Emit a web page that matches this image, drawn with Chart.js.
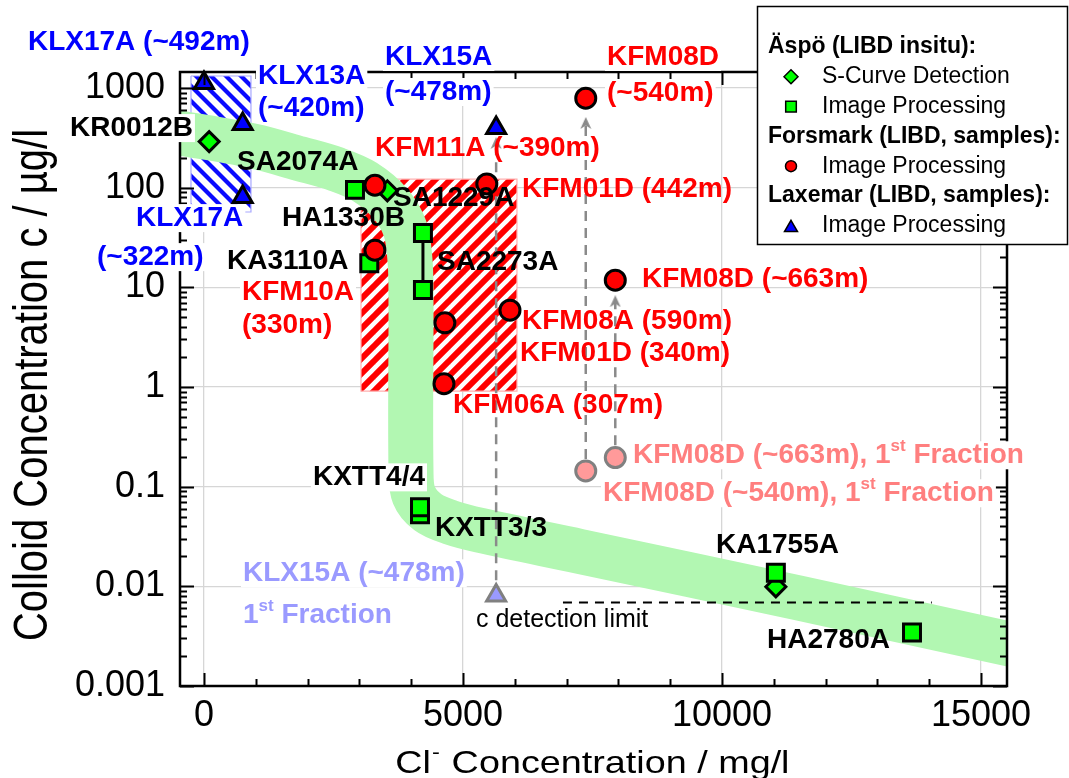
<!DOCTYPE html>
<html>
<head>
<meta charset="utf-8">
<script src="https://cdn.jsdelivr.net/npm/chart.js@4.4.1/dist/chart.umd.min.js"></script>
<style>
  html, body { margin: 0; padding: 0; background: #fff; }
  #wrap { width: 1069px; height: 778px; }
</style>
</head>
<body>
<div id="wrap"><canvas id="chart" width="1069" height="778"></canvas></div>
<script>
const FAMILY = "'Liberation Sans', Arial, Helvetica, sans-serif";

// ---- Axis ticks ----
const xTickValues = [0, 5000, 10000, 15000];
const yTickValues = [0.001, 0.01, 0.1, 1, 10, 100, 1000];

// ---- Äspö, LIBD in situ (Cl- in mg/l, colloids in µg/l) ----
const aspoSCurveNames = ['KR0012B', 'SA1229A', 'KA1755A'];
const aspoSCurveCl    = [100, 3540, 11040];
const aspoSCurveC     = [290, 93, 0.0099];

const aspoImageNames = ['SA2074A', 'KA3110A', 'SA2273A', 'SA2273A', 'KXTT3/3', 'KXTT4/4', 'KA1755A', 'HA2780A'];
const aspoImageCl    = [2915, 3191, 4227, 4227, 4170, 4170, 11040, 13668];
const aspoImageC     = [95, 17.4, 35, 9.4, 0.053, 0.062, 0.0137, 0.00345];

// SA2273A spread (min / max)
const sa2273Cl = 4227;
const sa2273C  = [9.4, 35];

// ---- Forsmark, LIBD samples ----
const forsmarkNames = ['KFM11A (~390m)', 'KFM01D (442m)', 'KFM10A (330m)', 'KFM08D (~540m)',
                       'KFM08D (~663m)', 'KFM08A (590m)', 'KFM01D (340m)', 'KFM06A (307m)'];
const forsmarkCl = [3300, 5460, 3300, 7370, 7940, 5907, 4650, 4633];
const forsmarkC  = [106, 109, 23.6, 790, 11.8, 5.9, 4.4, 1.08];

const forsmarkFirstNames = ['KFM08D (~540m), 1st Fraction', 'KFM08D (~663m), 1st Fraction'];
const forsmarkFirstCl = [7370, 7940];
const forsmarkFirstC  = [0.144, 0.196];

// ---- Laxemar, LIBD samples ----
const laxemarNames = ['KLX17A (~492m)', 'KLX13A (~420m)', 'KLX17A (~322m)', 'KLX15A (~478m)'];
const laxemarCl = [0, 747, 747, 5640];
const laxemarC  = [1120, 435, 80.5, 396];

const laxemarFirstNames = ['KLX15A (~478m), 1st Fraction'];
const laxemarFirstCl = [5640];
const laxemarFirstC  = [0.0081];

// ---- Ranges of the sample sets ----
const laxemarRangeCl  = [-251, 907];
const laxemarRangeC   = [57, 1320];
const forsmarkRangeCl = [3031, 6042];
const forsmarkRangeC  = [0.908, 122];

// ---- 1st fraction -> full sample arrows ----
const arrowCl     = [7370, 7940, 5640];
const arrowFromC  = [0.19, 0.26, 0.0115];
const arrowToC    = [446, 7.26, 281];

// ---- Detection limit ----
const detectionLimitCl = [6930, 14050];
const detectionLimitC  = 0.0069;

// ---- Trend band (S-curve) ----
const bandCl = [-560, 946, 1853, 2568, 3108, 3591, 3880, 3977, 3996, 3996, 4054, 4324, 4749, 5328, 7259, 11506, 15656];
const bandC  = [361, 262, 195, 152, 114, 70, 39, 18.7, 7.4, 0.146, 0.082, 0.0553, 0.044, 0.0365, 0.0224, 0.0076, 0.00256];

// ---- Colours ----
const BLUE = '#0000ff', RED = '#ff0000', BLACK = '#000000';
const PALE_RED = '#ff7f7f', PALE_BLUE = '#9a9aff';
const GREEN = '#00ff00';

// ---- Text annotations (anchored in data units: left edge, vertical centre) ----
const annotations = [
  { text: 'KLX17A (~492m)', cl: -3398, c: 2897, color: BLUE, bg: true },
  { text: 'KLX13A', cl: 1042, c: 1319, color: BLUE, bg: true },
  { text: '(~420m)', cl: 1042, c: 629, color: BLUE, bg: true },
  { text: 'KR0012B', cl: -2587, c: 396, color: BLACK, bg: true },
  { text: 'SA2074A', cl: 637, c: 181, color: BLACK, bg: false },
  { text: 'KLX17A', cl: -1313, c: 49.5, color: BLUE, bg: true },
  { text: '(~322m)', cl: -2066, c: 20.1, color: BLUE, bg: true },
  { text: 'HA1330B', cl: 1506, c: 49.5, color: BLACK, bg: false },
  { text: 'KA3110A', cl: 444, c: 18.3, color: BLACK, bg: false },
  { text: 'KFM10A', cl: 734, c: 8.95, color: RED, bg: true },
  { text: '(330m)', cl: 734, c: 4.17, color: RED, bg: true },
  { text: 'KLX15A', cl: 3494, c: 2047, color: BLUE, bg: true },
  { text: '(~478m)', cl: 3494, c: 912, color: BLUE, bg: true },
  { text: 'KFM08D', cl: 7780, c: 2047, color: RED, bg: true },
  { text: '(~540m)', cl: 7780, c: 891, color: RED, bg: true },
  { text: 'KFM11A (~390m)', cl: 3301, c: 250, color: RED, bg: false },
  { text: 'KFM01D (442m)', cl: 6139, c: 96.8, color: RED, bg: false },
  { text: 'SA1229A', cl: 3649, c: 78.7, color: BLACK, bg: false },
  { text: 'SA2273A', cl: 4498, c: 17.9, color: BLACK, bg: false },
  { text: 'KFM08D (~663m)', cl: 8456, c: 12.1, color: RED, bg: false },
  { text: 'KFM08A (590m)', cl: 6139, c: 4.58, color: RED, bg: false },
  { text: 'KFM01D (340m)', cl: 6100, c: 2.18, color: RED, bg: false },
  { text: 'KFM06A (307m)', cl: 4807, c: 0.656, color: RED, bg: false },
  { text: 'KFM08D (~663m), 1^st^ Fraction', cl: 8282, c: 0.2065, color: PALE_RED, bg: true },
  { text: 'KFM08D (~540m), 1^st^ Fraction', cl: 7703, c: 0.0859, color: PALE_RED, bg: true },
  { text: 'KXTT4/4', cl: 2104, c: 0.124, color: BLACK, bg: true },
  { text: 'KXTT3/3', cl: 4459, c: 0.0382, color: BLACK, bg: false },
  { text: 'KLX15A (~478m)', cl: 753, c: 0.0135, color: PALE_BLUE, bg: true },
  { text: '1^st^ Fraction', cl: 753, c: 0.00512, color: PALE_BLUE, bg: true },
  { text: 'c detection limit', cl: 5251, c: 0.00456, color: BLACK, bg: false, weight: 'normal', size: 25 },
  { text: 'KA1755A', cl: 9884, c: 0.0258, color: BLACK, bg: false },
  { text: 'HA2780A', cl: 10869, c: 0.00287, color: BLACK, bg: false }
];

// ---- Legend entries ----
const legendRows = [
  { title: 'Äspö (LIBD insitu):' },
  { marker: 'rectRot', radius: 7, fill: GREEN, text: 'S-Curve Detection' },
  { marker: 'rect', radius: 7.5, fill: GREEN, text: 'Image Processing' },
  { title: 'Forsmark (LIBD, samples):' },
  { marker: 'circle', radius: 5.5, fill: RED, text: 'Image Processing' },
  { title: 'Laxemar (LIBD, samples):' },
  { marker: 'triangle', radius: 7.5, fill: BLUE, text: 'Image Processing' }
];

const zip = (xs, ys) => xs.map((x, i) => ({ x, y: ys[i] }));
const box = (cl, c) => [
  { x: cl[0], y: c[1] }, { x: cl[1], y: c[1] }, { x: cl[1], y: c[0] },
  { x: cl[0], y: c[0] }, { x: cl[0], y: c[1] }
];

// diagonal hatch fill
function hatch(color, period, width, rising) {
  const cv = document.createElement('canvas');
  cv.width = cv.height = period;
  const g = cv.getContext('2d');
  g.fillStyle = '#ffffff';
  g.fillRect(0, 0, period, period);
  g.strokeStyle = color;
  g.lineWidth = width;
  g.lineCap = 'square';
  for (const o of [-period, 0, period]) {
    g.beginPath();
    if (rising) { g.moveTo(o, period); g.lineTo(o + period, 0); }
    else { g.moveTo(o, 0); g.lineTo(o + period, period); }
    g.stroke();
  }
  return g.createPattern(cv, 'repeat');
}

// grey arrow head
function arrowHead() {
  const cv = document.createElement('canvas');
  cv.width = 12; cv.height = 12;
  const g = cv.getContext('2d');
  g.fillStyle = '#8a8a8a';
  g.beginPath();
  g.moveTo(6, 0); g.lineTo(11.5, 12); g.lineTo(6, 8.5); g.lineTo(0.5, 12);
  g.closePath();
  g.fill();
  return cv;
}
const ARROW = arrowHead();

function parts(text) {
  return text.split('^').map((t, i) => ({ t, sup: i % 2 === 1 }));
}

function richWidth(ctx, segs, size, weight) {
  let w = 0;
  for (const p of segs) {
    ctx.font = `${weight} ${p.sup ? Math.round(size * 0.6) : size}px ${FAMILY}`;
    w += ctx.measureText(p.t).width;
  }
  return w;
}

function drawRich(ctx, segs, x, y, size, weight) {
  let cx = x;
  for (const p of segs) {
    const s = p.sup ? Math.round(size * 0.6) : size;
    ctx.font = `${weight} ${s}px ${FAMILY}`;
    ctx.fillText(p.t, cx, p.sup ? y - size * 0.32 : y);
    cx += ctx.measureText(p.t).width;
  }
}

// frame with inward ticks on all four sides
const framePlugin = {
  id: 'frame',
  afterDatasetsDraw(chart) {
    const { ctx, chartArea: a, scales: { x, y } } = chart;
    ctx.save();
    ctx.strokeStyle = '#000';
    ctx.lineCap = 'butt';
    ctx.lineWidth = 2;
    ctx.beginPath();
    for (let v = 0; v <= x.max; v += 1000) {
      const px = Math.round(x.getPixelForValue(v)) + 0.5;
      const len = v % 5000 === 0 ? 13 : 7;
      ctx.moveTo(px, a.bottom); ctx.lineTo(px, a.bottom - len);
      ctx.moveTo(px, a.top); ctx.lineTo(px, a.top + len);
    }
    for (let d = -3; d <= 3; d++) {
      for (let m = 1; m <= 9; m++) {
        const v = m * Math.pow(10, d);
        if (v > y.max) continue;
        const py = Math.round(y.getPixelForValue(v)) + 0.5;
        const len = m === 1 ? 14 : 7;
        ctx.moveTo(a.left, py); ctx.lineTo(a.left + len, py);
        ctx.moveTo(a.right, py); ctx.lineTo(a.right - len, py);
      }
    }
    ctx.stroke();
    ctx.lineWidth = 2.5;
    ctx.strokeRect(a.left, a.top, a.right - a.left, a.bottom - a.top);
    ctx.restore();
  }
};

// axis titles, text annotations and the grouped legend
const overlayPlugin = {
  id: 'overlay',
  afterDraw(chart) {
    const { ctx, scales: { x, y } } = chart;
    ctx.save();
    ctx.textBaseline = 'middle';
    ctx.textAlign = 'left';
    for (const a of annotations) {
      const segs = parts(a.text);
      const size = a.size || 28;
      const weight = a.weight || 'bold';
      const px = x.getPixelForValue(a.cl);
      const py = y.getPixelForValue(a.c);
      if (a.bg) {
        const w = richWidth(ctx, segs, size, weight);
        ctx.fillStyle = '#ffffff';
        ctx.fillRect(px - 2, py - size * 0.5, w + 4, size * 1.0);
      }
      ctx.fillStyle = a.color;
      drawRich(ctx, segs, px, py, size, weight);
    }

    // y title
    ctx.save();
    ctx.translate(47, 385);
    ctx.rotate(-Math.PI / 2);
    ctx.scale(1, 1.2);
    ctx.font = `40px ${FAMILY}`;
    ctx.fillStyle = '#000';
    ctx.textAlign = 'center';
    ctx.textBaseline = 'alphabetic';
    ctx.fillText('Colloid Concentration c / µg/l', 0, 0);
    ctx.restore();

    // x title
    ctx.save();
    const xt = [{ t: 'Cl' }, { t: '-', sup: true }, { t: ' Concentration / mg/l' }];
    ctx.textBaseline = 'alphabetic';
    ctx.fillStyle = '#000';
    const w = richWidth(ctx, xt, 32, 'normal');
    ctx.translate(591, 773);
    ctx.scale(1.18, 1);
    let cx = -w / 2;
    for (const p of xt) {
      ctx.font = `${p.sup ? 20 : 32}px ${FAMILY}`;
      ctx.fillText(p.t, cx + (p.sup ? 1 : 0), p.sup ? -14 : 0);
      cx += ctx.measureText(p.t).width + (p.sup ? 2 : 0);
    }
    ctx.restore();

    // legend
    const L = { left: 757, top: 6, right: 1067, bottom: 244 };
    ctx.fillStyle = '#ffffff';
    ctx.fillRect(L.left, L.top, L.right - L.left, L.bottom - L.top);
    ctx.strokeStyle = '#000';
    ctx.lineWidth = 1.5;
    ctx.strokeRect(L.left + 0.5, L.top + 0.5, L.right - L.left, L.bottom - L.top);
    ctx.textBaseline = 'middle';
    legendRows.forEach((r, i) => {
      const ry = 47 + i * 29.8;
      ctx.fillStyle = '#000';
      if (r.title) {
        ctx.font = `bold 23px ${FAMILY}`;
        ctx.fillText(r.title, 768, ry);
      } else {
        ctx.fillStyle = r.fill;
        ctx.strokeStyle = '#000';
        ctx.lineWidth = 1.5;
        Chart.helpers.drawPoint(ctx, { pointStyle: r.marker, radius: r.radius, borderWidth: 1.5, rotation: 0 }, 791, ry + (r.marker === 'triangle' ? 2 : 0));
        ctx.fillStyle = '#000';
        ctx.font = `23px ${FAMILY}`;
        ctx.fillText(r.text, 822, ry);
      }
    });
    ctx.restore();
  }
};

const markerBase = { showLine: false, clip: false, pointBorderColor: '#000', pointBorderWidth: 3, pointHoverRadius: 0 };

const datasets = [
  { label: 'Laxemar range', data: box(laxemarRangeCl, laxemarRangeC), showLine: true, fill: 'shape',
    backgroundColor: hatch('#0a0aff', 15, 4.2, false), borderColor: '#a8a8ff', borderWidth: 1.2,
    pointRadius: 0, clip: 0, order: 20 },
  { label: 'Forsmark range', data: box(forsmarkRangeCl, forsmarkRangeC), showLine: true, fill: 'shape',
    backgroundColor: hatch('#ff0000', 15, 6, true), borderColor: '#ffb0b0', borderWidth: 1.2,
    pointRadius: 0, clip: 0, order: 19 },
  { label: 'Trend', data: zip(bandCl, bandC), showLine: true, fill: false, borderColor: '#b2f7b2',
    borderWidth: 45, tension: 0.35, borderCapStyle: 'butt', borderJoinStyle: 'round',
    pointRadius: 0, clip: 0, order: 18 },
  ...arrowCl.map((cl, i) => ({
    label: 'arrow ' + i, data: [{ x: cl, y: arrowFromC[i] }, { x: cl, y: arrowToC[i] }],
    showLine: true, fill: false, borderColor: '#8a8a8a', borderWidth: 2.5, borderDash: [10, 7],
    pointRadius: ctx => (ctx.dataIndex === 1 ? 6 : 0), pointStyle: ARROW, clip: false, order: 15
  })),
  { label: 'Detection limit', data: detectionLimitCl.map(cl => ({ x: cl, y: detectionLimitC })),
    showLine: true, fill: false, borderColor: '#000', borderWidth: 2, borderDash: [9, 7],
    pointRadius: 0, order: 14 },
  { label: 'SA2273A range', data: sa2273C.map(c => ({ x: sa2273Cl, y: c })), showLine: true, fill: false,
    borderColor: '#000', borderWidth: 3, pointRadius: 0, order: 13 },
  { ...markerBase, label: 'Forsmark 1st fraction', data: zip(forsmarkFirstCl, forsmarkFirstC),
    pointStyle: 'circle', pointRadius: 10, pointBackgroundColor: '#ff9a9a', pointBorderColor: '#808080', order: 10 },
  { ...markerBase, label: 'Laxemar 1st fraction', data: zip(laxemarFirstCl, laxemarFirstC),
    pointStyle: 'triangle', pointRadius: 11, pointBackgroundColor: '#9a9aff', pointBorderColor: '#808080', order: 10 },
  { ...markerBase, label: 'Äspö S-Curve Detection', data: zip(aspoSCurveCl, aspoSCurveC),
    pointStyle: 'rectRot', pointRadius: 10, pointBackgroundColor: GREEN, order: 8 },
  { ...markerBase, label: 'Äspö Image Processing', data: zip(aspoImageCl, aspoImageC),
    pointStyle: 'rect', pointRadius: 12, pointBackgroundColor: GREEN, order: 7 },
  { ...markerBase, label: 'Forsmark Image Processing', data: zip(forsmarkCl, forsmarkC),
    pointStyle: 'circle', pointRadius: 10, pointBackgroundColor: RED, order: 6 },
  { ...markerBase, label: 'Laxemar Image Processing', data: zip(laxemarCl, laxemarC),
    pointStyle: 'triangle', pointRadius: 11, pointBackgroundColor: BLUE, order: 5 }
];

new Chart(document.getElementById('chart'), {
  type: 'scatter',
  data: { datasets },
  options: {
    responsive: false,
    animation: false,
    devicePixelRatio: 1,
    events: [],
    layout: { padding: { top: 72, right: 62, left: 0, bottom: 0 } },
    plugins: { legend: { display: false }, tooltip: { enabled: false } },
    scales: {
      x: {
        type: 'linear', min: -463, max: 15502,
        afterBuildTicks: s => { s.ticks = xTickValues.map(v => ({ value: v })); },
        afterFit: s => { s.height = 92; },
        ticks: { font: { family: FAMILY, size: 36 }, color: '#000', padding: 8, maxRotation: 0, autoSkip: false,
                 callback: v => String(v) },
        grid: { color: '#d6d6d6', lineWidth: 1.3, drawTicks: false },
        border: { display: false }
      },
      y: {
        type: 'logarithmic', min: 0.001, max: 1447,
        afterBuildTicks: s => { s.ticks = yTickValues.map(v => ({ value: v })); },
        afterFit: s => { s.width = 180; },
        ticks: { font: { family: FAMILY, size: 36 }, color: '#000', padding: 15, autoSkip: false,
                 callback: v => String(v) },
        grid: { color: '#d6d6d6', lineWidth: 1.3, drawTicks: false },
        border: { display: false }
      }
    }
  },
  plugins: [framePlugin, overlayPlugin]
});
</script>
</body>
</html>
